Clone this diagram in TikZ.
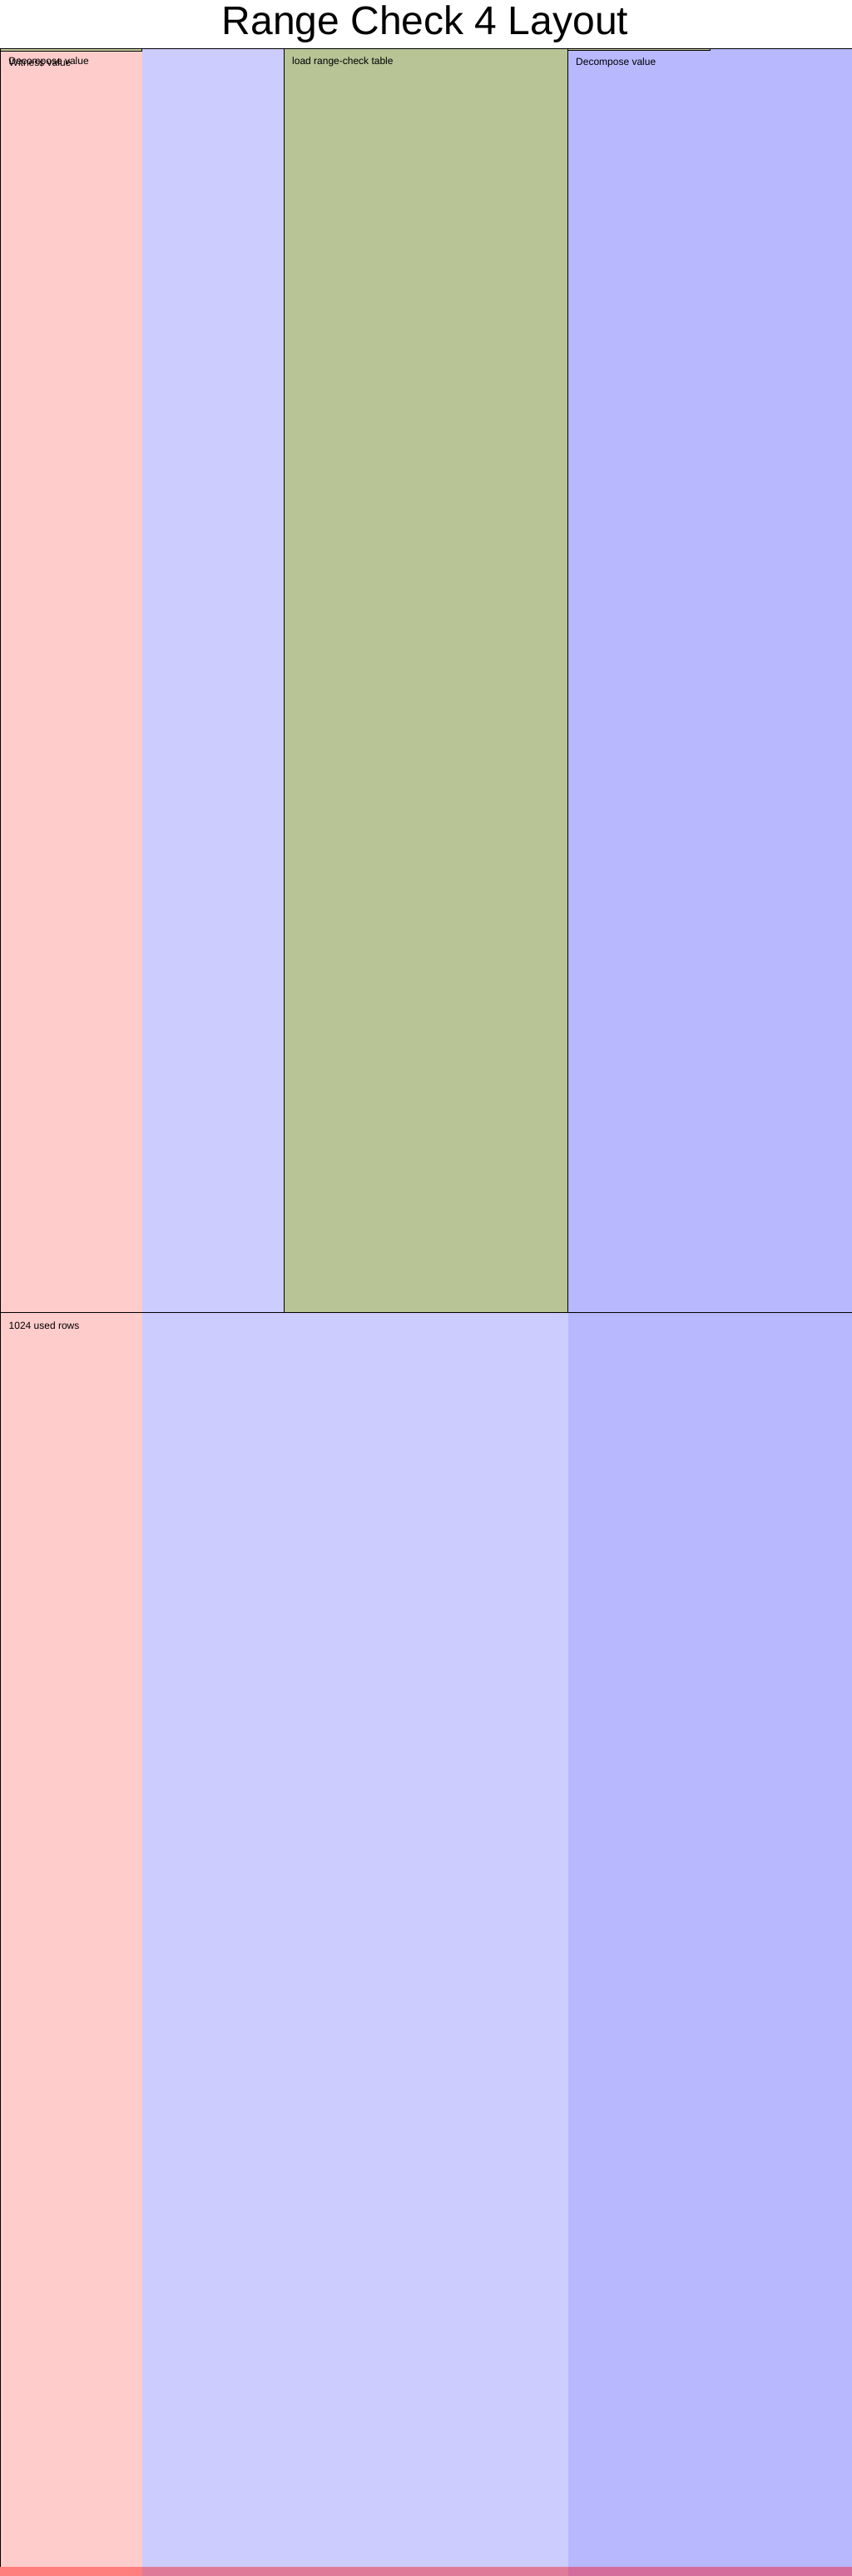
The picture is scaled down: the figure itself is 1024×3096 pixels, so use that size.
\documentclass[tikz,border=0pt]{standalone}
\usepackage{fontspec}
\setmainfont{Liberation Sans}
\definecolor{advicecol}{RGB}{255,204,204}
\definecolor{fixedcol}{RGB}{204,204,255}
\definecolor{selcol}{RGB}{184,184,255}
\definecolor{tablecol}{RGB}{184,195,150}
\definecolor{khakicol}{RGB}{200,204,156}
\definecolor{stripa}{RGB}{255,127,127}
\definecolor{stripb}{RGB}{224,122,153}
\definecolor{stripc}{RGB}{212,108,156}
\begin{document}
\begin{tikzpicture}[x=1pt,y=-1pt,
  lbl/.style={anchor=base west, inner sep=0pt, font=\fontsize{12}{14}\selectfont},
  bord/.style={draw=black, line width=1pt}]
\useasboundingbox (0,0) rectangle (1024,3096);
\fill[white] (0,0) rectangle (1024,3096);
% column backgrounds
\fill[advicecol] (0,58) rectangle (170.7,3096);
\fill[fixedcol] (170.7,58) rectangle (682.7,3096);
\fill[selcol] (682.7,58) rectangle (1024,3096);
% table region
\fill[tablecol] (341.3,58) rectangle (682.7,1577);
% bottom strip
\fill[stripa] (0,3085) rectangle (170.7,3096);
\fill[stripb] (170.7,3085) rectangle (682.7,3096);
\fill[stripc] (682.7,3085) rectangle (1024,3096);
% borders
\draw[bord] (0.5,3085) -- (0.5,58.5) -- (1024,58.5);
\draw[bord] (0,1577) -- (1024,1577);
\draw[bord] (341.3,58.5) -- (341.3,1577);
\draw[bord] (682.7,58.5) -- (682.7,1577);
% thin regions
\draw[bord, fill=khakicol] (0.5,58.8) rectangle (170.7,61.8);
\draw[bord, fill=khakicol] (682.7,59) rectangle (853.3,61);
% title
\node[anchor=base, inner sep=0pt, font=\fontsize{48}{50}\selectfont] (title) at (511,42) {Range Check 4 Layout};
% labels
\node[lbl] (witness) at (10.5,80) {Witness value};
\node[lbl] (decompL) at (10.5,77.5) {Decompose value};
\node[lbl] (table) at (351,77.7) {load range-check table};
\node[lbl] (decompR) at (692,79) {Decompose value};
\node[lbl] (used) at (10.5,1597) {1024 used rows};
\end{tikzpicture}
\end{document}
